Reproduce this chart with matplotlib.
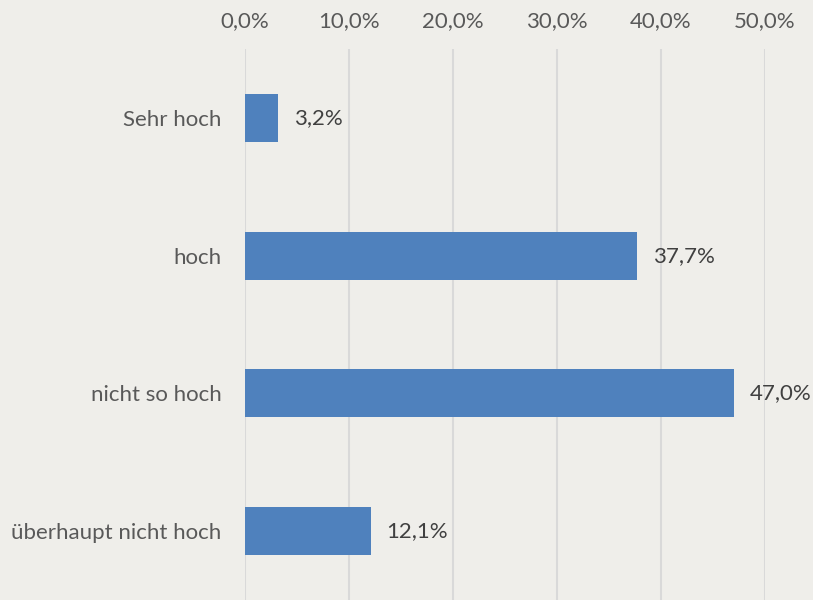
import matplotlib
matplotlib.use("Agg")
import matplotlib.pyplot as plt

categories = ["Sehr hoch", "hoch", "nicht so hoch", "überhaupt nicht hoch"]
values = [3.2, 37.7, 47.0, 12.1]
ticks = [0, 10, 20, 30, 40, 50]

bg = "#EFEEEA"
bar_color = "#4F81BD"

plt.rcParams["font.family"] = ["Lato", "DejaVu Sans"]

fig = plt.figure(figsize=(8.13, 6.0), dpi=100, facecolor=bg)
ax = fig.add_axes([245 / 813, 0.0, 520 / 813, 551 / 600])
ax.set_facecolor(bg)

pos = list(range(len(categories)))
ax.barh(pos, values, height=0.35, color=bar_color, zorder=3)

for p, v in zip(pos, values):
    ax.text(v + 1.5, p, f"{v:.1f}%".replace(".", ","), va="center", ha="left",
            fontsize=16, color="#404040", zorder=4)

ax.set_xlim(0, 50)
ax.set_ylim(len(categories) - 0.5, -0.5)
ax.set_yticks(pos)
ax.set_yticklabels(categories, fontsize=16, color="#595959")
ax.set_xticks(ticks)
ax.set_xticklabels([f"{t:.1f}%".replace(".", ",") for t in ticks], fontsize=16, color="#595959")
ax.xaxis.tick_top()
ax.tick_params(axis="both", length=0)
ax.tick_params(axis="x", pad=13)
ax.tick_params(axis="y", pad=17)
ax.grid(axis="x", color="#D9D9D9", linewidth=1.5, zorder=0)
for s in ax.spines.values():
    s.set_visible(False)

fig.savefig("out.png", dpi=100, facecolor=bg)
